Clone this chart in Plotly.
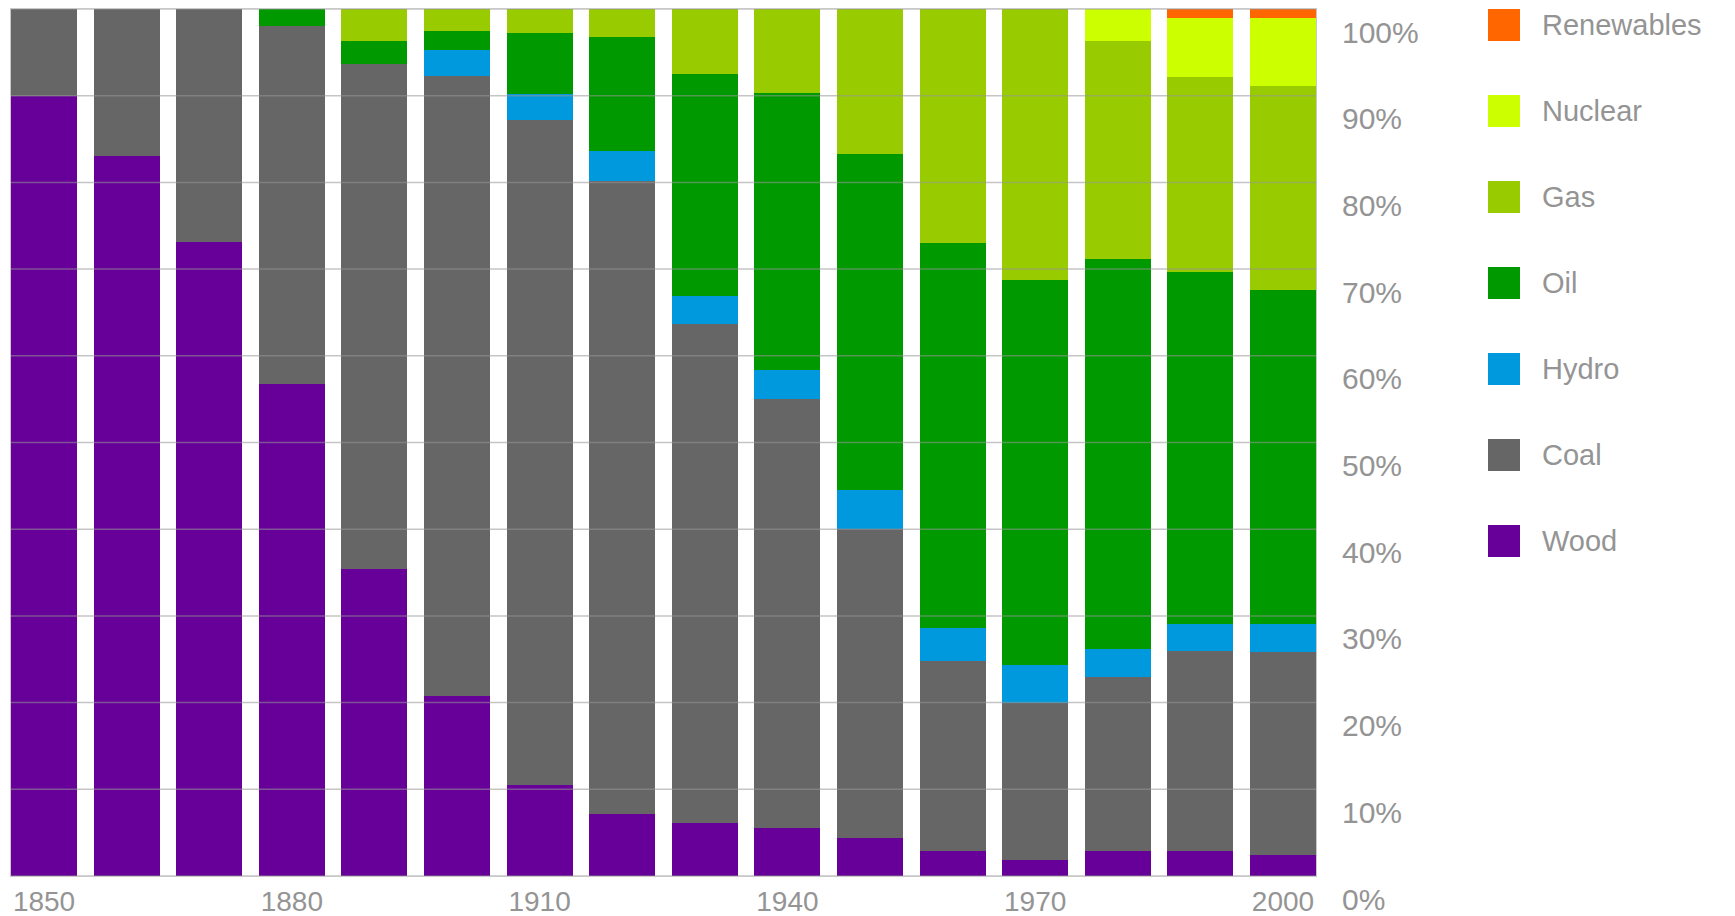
import plotly.graph_objects as go

W, H = 1735, 916

years = ["1850", "1860", "1870", "1880", "1890", "1900", "1910", "1920",
         "1930", "1940", "1950", "1960", "1970", "1980", "1990", "2000"]
year_ticks = ["1850", "1880", "1910", "1940", "1970", "2000"]

wood = [90.0, 83.0, 73.1, 56.8, 35.4, 20.8, 10.5, 7.1, 6.1, 5.5, 4.4, 2.9, 1.9, 2.9, 2.9, 2.4]
coal = [10.0, 17.0, 26.9, 41.2, 58.3, 71.5, 76.7, 73.1, 57.6, 49.5, 35.6, 21.9, 18.0, 20.0, 23.0, 23.4]
hydro = [0, 0, 0, 0, 0, 3.0, 3.0, 3.4, 3.2, 3.4, 4.5, 3.8, 4.4, 3.3, 3.2, 3.3]
oil = [0, 0, 0, 2.0, 2.6, 2.2, 7.0, 13.2, 25.6, 31.9, 38.8, 44.4, 44.5, 45.0, 40.6, 38.5]
gas = [0, 0, 0, 0, 3.7, 2.5, 2.8, 3.2, 7.5, 9.7, 16.7, 27.0, 31.2, 25.1, 22.4, 23.5]
nuclear = [0, 0, 0, 0, 0, 0, 0, 0, 0, 0, 0, 0, 0, 3.7, 6.9, 7.9]
renewables = [0, 0, 0, 0, 0, 0, 0, 0, 0, 0, 0, 0, 0, 0, 1.0, 1.0]

series_names = ["Wood", "Coal", "Hydro", "Oil", "Gas", "Nuclear", "Renewables"]
series_values = [wood, coal, hydro, oil, gas, nuclear, renewables]
series_colors = ["#660099", "#666666", "#0099dd", "#009900", "#99cc00", "#ccff00", "#ff6600"]

y_ticks = list(range(0, 101, 10))
y_tick_text = [f"{v}%" for v in y_ticks]

FONT = "Liberation Sans, Arial, sans-serif"
TXT = "#949494"

fig = go.Figure()
for name, vals, col in zip(series_names, series_values, series_colors):
    fig.add_trace(go.Bar(x=years, y=vals, name=name, marker=dict(color=col, line=dict(width=0)),
                         showlegend=False))

# plot area in pixels
px_l, px_r, px_t, px_b = 11, 1316, 9, 876

fig.update_layout(
    width=W, height=H,
    margin=dict(l=0, r=0, t=0, b=0),
    barmode="stack", bargap=0.2,
    plot_bgcolor="white", paper_bgcolor="white",
    font=dict(family=FONT, color=TXT),
    xaxis=dict(domain=[px_l / W, px_r / W], range=[-0.4, 15.4], type="category",
               tickmode="array", tickvals=year_ticks, ticktext=year_ticks,
               showgrid=False, ticks="", showline=True, linecolor="#c8c8c8", linewidth=1,
               mirror=True, tickfont=dict(size=28, color=TXT), ticklabelstandoff=0,
               automargin=False, zeroline=False),
    yaxis=dict(domain=[(H - px_b) / H, (H - px_t) / H], range=[0, 100], side="right",
               tickmode="array", tickvals=y_ticks, ticktext=y_tick_text,
               showgrid=False, ticks="", showline=True, linecolor="#c8c8c8", linewidth=1,
               mirror=True, tickfont=dict(size=30, color=TXT), ticklabelstandoff=19,
               ticklabelshift=23, automargin=False, zeroline=False),
)

# gridlines drawn over the bars (as in the reference)
for v in y_ticks:
    fig.add_shape(type="line", xref="paper", yref="y", x0=px_l / W, x1=px_r / W, y0=v, y1=v,
                  line=dict(color="rgba(150,150,150,0.55)", width=1.5), layer="above")

# legend (top to bottom: Renewables ... Wood)
leg_top, leg_step, sq = 25, 86, 32
sq_x0 = 1488
for i, (name, col) in enumerate(zip(series_names[::-1], series_colors[::-1])):
    cy = leg_top + leg_step * i
    fig.add_shape(type="rect", xref="paper", yref="paper",
                  x0=sq_x0 / W, x1=(sq_x0 + sq) / W,
                  y0=(H - cy - sq / 2) / H, y1=(H - cy + sq / 2) / H,
                  fillcolor=col, line=dict(width=0))
    fig.add_annotation(xref="paper", yref="paper", x=1540 / W, y=(H - cy) / H,
                       text=name, showarrow=False, xanchor="left", yanchor="middle",
                       font=dict(size=29, color=TXT, family=FONT))

fig.write_html("out.html", config={"displayModeBar": False},
               post_script="document.body.style.margin='0px';document.body.style.overflow='hidden';")
